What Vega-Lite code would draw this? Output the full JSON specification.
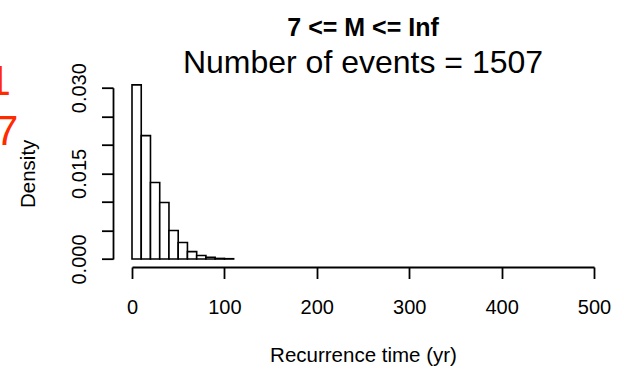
{
  "$schema": "https://vega.github.io/schema/vega-lite/v6.json",
  "autosize": "none",
  "width": 462,
  "height": 171.3,
  "padding": {"left": 132, "top": 87.7, "right": 30, "bottom": 118},
  "background": "white",
  "config": {
    "view": {"stroke": null},
    "font": "Liberation Sans",
    "axis": {
      "grid": false,
      "domainColor": "black",
      "domainWidth": 1.8,
      "tickColor": "black",
      "tickWidth": 1.8,
      "tickSize": 11.5,
      "labelColor": "black",
      "labelFont": "Liberation Sans",
      "labelFontSize": 20,
      "labelFlush": false,
      "labelOverlap": false,
      "titleFont": "Liberation Sans",
      "titleFontSize": 20.5,
      "titleFontWeight": "normal",
      "titleColor": "black"
    }
  },
  "title": {
    "text": "7 <= M <= Inf",
    "subtitle": "Number of events = 1507",
    "font": "Liberation Sans",
    "fontSize": 25,
    "fontWeight": "bold",
    "color": "black",
    "subtitleFont": "Liberation Sans",
    "subtitleFontSize": 32,
    "subtitleColor": "black",
    "subtitlePadding": 7,
    "anchor": "middle",
    "offset": -18
  },
  "datasets": {
    "bins": [
      {"start": 0, "end": 10, "density": 0.0305},
      {"start": 10, "end": 20, "density": 0.0216},
      {"start": 20, "end": 30, "density": 0.0134},
      {"start": 30, "end": 40, "density": 0.0099},
      {"start": 40, "end": 50, "density": 0.0050},
      {"start": 50, "end": 60, "density": 0.0029},
      {"start": 60, "end": 70, "density": 0.0013},
      {"start": 70, "end": 80, "density": 0.0006},
      {"start": 80, "end": 90, "density": 0.0003},
      {"start": 90, "end": 100, "density": 0.0001},
      {"start": 100, "end": 110, "density": 0.00005}
    ],
    "fragments": [
      {"label": "1", "x": -131, "y": 0.0287},
      {"label": "7", "x": -123, "y": 0.0200}
    ]
  },
  "layer": [
    {
      "data": {"name": "bins"},
      "mark": {"type": "rect", "fill": "white", "stroke": "black", "strokeWidth": 1.6, "clip": false},
      "encoding": {
        "x": {
          "field": "start", "type": "quantitative",
          "scale": {"domain": [0, 500], "nice": false, "zero": false},
          "axis": {
            "title": "Recurrence time (yr)",
            "values": [0, 100, 200, 300, 400, 500],
            "tickCount": 12,
            "offset": 8,
            "labelPadding": 19,
            "titlePadding": 28
          }
        },
        "x2": {"field": "end"},
        "y": {
          "field": "density", "type": "quantitative",
          "scale": {"domain": [0, 0.03], "nice": false, "zero": true},
          "axis": {
            "title": "Density",
            "values": [0, 0.005, 0.01, 0.015, 0.02, 0.025, 0.03],
            "tickCount": 14,
            "labelExpr": "datum.value == 0 ? '0.000' : (abs(datum.value - 0.015) < 0.0001 ? '0.015' : (abs(datum.value - 0.03) < 0.0001 ? '0.030' : ''))",
            "labelAngle": 270,
            "labelAlign": "center",
            "labelBaseline": "bottom",
            "offset": 19,
            "labelPadding": 12,
            "titlePadding": 31
          }
        },
        "y2": {"datum": 0}
      }
    },
    {
      "data": {"name": "fragments"},
      "mark": {"type": "text", "color": "#ff2a00", "fontSize": 42, "font": "Liberation Sans", "align": "right", "baseline": "alphabetic", "clip": false},
      "encoding": {
        "x": {"field": "x", "type": "quantitative"},
        "y": {"field": "y", "type": "quantitative"},
        "text": {"field": "label"}
      }
    }
  ]
}
